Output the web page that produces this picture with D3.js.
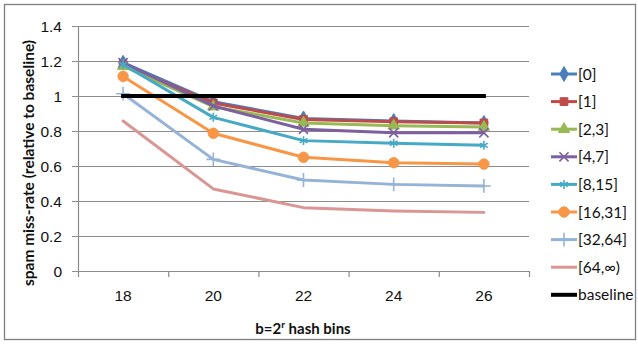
<!DOCTYPE html>
<html><head><meta charset="utf-8">
<script src="https://cdn.jsdelivr.net/npm/d3@7"></script>
<style>
body{margin:0;background:#fff;}
svg{display:block;font-family:Lato,"Open Sans",sans-serif;}
</style></head>
<body><div id="chart"></div>
<script>
const categories = ["18","20","22","24","26"];
const seriesNames = ["[0]","[1]","[2,3]","[4,7]","[8,15]","[16,31]","[32,64]","[64,\u221E)","baseline"];
const s0  = [1.19, 0.967, 0.872, 0.857, 0.846];
const s1  = [1.18, 0.96, 0.866, 0.853, 0.846];
const s23 = [1.17, 0.939, 0.846, 0.83, 0.823];
const s47 = [1.19, 0.943, 0.81, 0.79, 0.79];
const s815 = [1.18, 0.878, 0.745, 0.73, 0.718];
const s1631 = [1.112, 0.787, 0.65, 0.619, 0.611];
const s3264 = [1.013, 0.638, 0.52, 0.495, 0.486];
const s64 = [0.857, 0.469, 0.362, 0.343, 0.335];
const baseline = [1, 1, 1, 1, 1];
const yTicks = [0, 0.2, 0.4, 0.6, 0.8, 1, 1.2, 1.4];

const colors = ["#4A7EBB","#BE4B48","#98B954","#7D60A0","#46AAC5","#F79646","#95B3D7","#D99694","#000000"];
const symbols = [d3.symbolDiamond, d3.symbolSquare, d3.symbolTriangle, d3.symbolX, d3.symbolAsterisk, d3.symbolCircle, d3.symbolPlus, null, null];
const symSizes = [64, 60, 56, 56, 56, 85, 64, 0, 0];
const allValues = [s0, s1, s23, s47, s815, s1631, s3264, s64, baseline];

const W = 638, H = 344;
const svg = d3.select("#chart").append("svg").attr("width", W).attr("height", H);
svg.append("rect").attr("x", 4.5).attr("y", 4.5).attr("width", 631).attr("height", 335)
  .attr("fill", "#fff").attr("stroke", "#7f7f7f").attr("stroke-width", 1.3);

const L = 78, R = 529, T = 26, B = 271;
const x = d3.scaleBand().domain(categories).range([L, R]);
const y = d3.scaleLinear().domain([0, 1.4]).range([B, T]);
const xi = d3.scaleLinear().domain([0, categories.length]).range([L, R]);

// gridlines
const grid = svg.append("g").attr("transform", `translate(${L},0)`)
  .call(d3.axisLeft(y).tickValues(yTicks).tickSize(-(R - L)).tickFormat(""));
grid.select(".domain").remove();
grid.selectAll("line").attr("stroke", "#8c8c8c").attr("stroke-width", 1.2).attr("x1", -6);

// y axis
const ya = svg.append("g").attr("transform", `translate(${L},0)`)
  .call(d3.axisLeft(y).tickValues(yTicks).tickSize(6).tickFormat(d3.format("")));
ya.select(".domain").attr("stroke", "#8c8c8c").attr("stroke-width", 1.2);
ya.selectAll("line").attr("stroke", "#8c8c8c");
ya.selectAll("text").attr("font-size", 15.5).attr("fill", "#111").attr("x", -16).attr("dy", "0.36em");

// x axis ticks at boundaries
const xt = svg.append("g").attr("transform", `translate(0,${B})`)
  .call(d3.axisBottom(xi).tickValues(d3.range(categories.length + 1)).tickSize(6).tickFormat("").tickSizeOuter(0));
xt.select(".domain").attr("stroke", "#8c8c8c").attr("stroke-width", 1.2);
xt.selectAll("line").attr("stroke", "#8c8c8c").attr("stroke-width", 1.2);
// x labels
const xa = svg.append("g").attr("transform", `translate(0,${B})`)
  .call(d3.axisBottom(x).tickSize(0));
xa.select(".domain").remove();
xa.selectAll("text").attr("font-size", 15.5).attr("fill", "#111").attr("dy", "1.75em");

// lines
const line = d3.line().x((d, i) => x(categories[i]) + x.bandwidth() / 2).y(d => y(d));
allValues.forEach((vals, si) => {
  const g = svg.append("g");
  const isBase = si === 8;
  g.append("path").datum(vals).attr("d", line).attr("fill", "none")
    .attr("stroke", colors[si]).attr("stroke-width", isBase ? 4 : 3)
    .attr("stroke-linejoin", "round").attr("stroke-linecap", isBase ? "square" : "round");
  if (symbols[si]) {
    const stroked = [3, 4, 6].includes(si);
    g.selectAll("path.m").data(vals).join("path").attr("class", "m")
      .attr("transform", (d, i) => `translate(${x(categories[i]) + x.bandwidth() / 2},${y(d)})`)
      .attr("d", d3.symbol().type(symbols[si]).size(symSizes[si]))
      .attr("fill", stroked ? "none" : colors[si])
      .attr("stroke", colors[si]).attr("stroke-width", stroked ? 1.6 : 1);
  }
});

// legend
const lg = svg.append("g");
seriesNames.forEach((n, i) => {
  const yy = 74 + i * 27.6;
  const isBase = i === 8;
  lg.append("line").attr("x1", 551).attr("x2", 577).attr("y1", yy).attr("y2", yy)
    .attr("stroke", colors[i]).attr("stroke-width", isBase ? 4 : 3);
  if (symbols[i]) {
    const stroked = [3, 4, 6].includes(i);
    lg.append("path").attr("transform", `translate(564,${yy})`)
      .attr("d", d3.symbol().type(symbols[i]).size(symSizes[i]))
      .attr("fill", stroked ? "none" : colors[i])
      .attr("stroke", colors[i]).attr("stroke-width", stroked ? 1.6 : 1);
  }
  lg.append("text").attr("x", 578).attr("y", yy).attr("dy", "0.36em")
    .attr("font-size", 15.5).attr("fill", "#111").text(n);
});

// axis titles
svg.append("text").attr("transform", `translate(34,163) rotate(-90)`)
  .attr("text-anchor", "middle").attr("font-size", 15.5).attr("font-weight", "bold").attr("fill", "#111")
  .text("spam miss-rate (relative to baseline)");
const xtitle = svg.append("text").attr("x", 303).attr("y", 334).attr("text-anchor", "middle")
  .attr("font-size", 15).attr("font-weight", "bold").attr("fill", "#111");
xtitle.append("tspan").text("b=2");
xtitle.append("tspan").attr("dy", -6).attr("font-size", 10).text("r");
xtitle.append("tspan").attr("dy", 6).text(" hash bins");
</script>
</body></html>
